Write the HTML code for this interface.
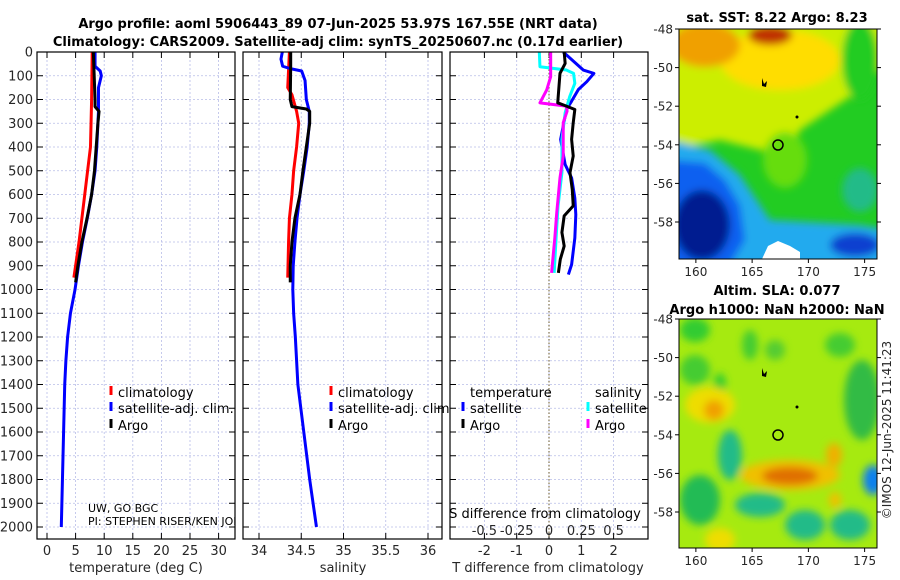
<!DOCTYPE html>
<html><head><meta charset="utf-8">
<style>
html,body{margin:0;padding:0;background:#fff;}
svg{display:block;font-family:"DejaVu Sans","Liberation Sans",sans-serif;}
</style></head>
<body>
<svg id="fig" width="900" height="580" viewBox="0 0 900 580" xmlns="http://www.w3.org/2000/svg">
<defs>
<clipPath id="cp1"><rect x="37" y="52" width="198" height="487"/></clipPath>
<clipPath id="cp2"><rect x="243" y="52" width="199" height="487"/></clipPath>
<clipPath id="cp3"><rect x="450" y="52" width="198" height="487"/></clipPath>
<clipPath id="cm1"><rect x="679" y="29" width="198" height="230"/></clipPath>
<clipPath id="cm2"><rect x="679" y="319" width="198" height="229"/></clipPath>
<filter id="bl" x="-50%" y="-50%" width="200%" height="200%"><feGaussianBlur stdDeviation="4"/></filter>
<filter id="bl2" x="-50%" y="-50%" width="200%" height="200%"><feGaussianBlur stdDeviation="4"/></filter>
</defs>
<text x="338" y="28" text-anchor="middle" font-weight="bold" font-size="13">Argo profile: aoml 5906443_89 07-Jun-2025 53.97S 167.55E (NRT data)</text>
<text x="338" y="46" text-anchor="middle" font-weight="bold" font-size="13">Climatology: CARS2009. Satellite-adj clim: synTS_20250607.nc (0.17d earlier)</text>
<g id="panels"></g>
<g>
<text x="777" y="22" text-anchor="middle" font-weight="bold" font-size="13">sat. SST: 8.22 Argo: 8.23</text>
<g clip-path="url(#cm1)">
<rect x="679" y="29" width="198" height="230" fill="#22cc22"/>
<g filter="url(#bl)">
<path d="M670 20 L890 20 L890 60 L860 90 L830 110 L800 130 L790 150 L760 150 L720 140 L670 150 Z" fill="#ccee00"/>
<ellipse cx="780" cy="60" rx="60" ry="30" fill="#ffdd00"/>
<ellipse cx="705" cy="45" rx="35" ry="22" fill="#f0a000"/>
<ellipse cx="770" cy="35" rx="22" ry="10" fill="#c03000"/>
<ellipse cx="860" cy="60" rx="18" ry="40" fill="#22cc22"/>
<ellipse cx="785" cy="160" rx="22" ry="28" fill="#66dd11"/>
<path d="M670 140 L710 150 L740 175 L760 205 L770 220 L860 225 L890 230 L890 270 L670 270 Z" fill="#22aaee"/>
<path d="M670 160 L705 163 L725 180 L740 205 L745 240 L730 265 L670 265 Z" fill="#1060f0"/>
<ellipse cx="702" cy="225" rx="28" ry="35" fill="#001a90"/>
<ellipse cx="855" cy="245" rx="25" ry="12" fill="#1040d0"/>
<ellipse cx="860" cy="190" rx="18" ry="22" fill="#22bb88"/>
</g>
<path d="M762 259 L768 246 L778 241 L790 246 L800 252 L800 259 Z" fill="#fff"/>
</g>
<rect x="679" y="29" width="198" height="230" fill="none" stroke="#000"/>
<circle cx="778" cy="145" r="5" fill="none" stroke="#000" stroke-width="1.5"/>
<path d="M762 78 l2 6 l3 -3 l-1 6 l-4 -1 z" fill="#000"/>
<circle cx="797" cy="117" r="1.5" fill="#000"/>
<g id="m1ax"></g>
</g>
<g>
<text x="777" y="295" text-anchor="middle" font-weight="bold" font-size="13">Altim. SLA: 0.077</text>
<text x="777" y="314" text-anchor="middle" font-weight="bold" font-size="13">Argo h1000: NaN h2000: NaN</text>
<g clip-path="url(#cm2)">
<rect x="679" y="319" width="198" height="229" fill="#a6ea10"/>
<g filter="url(#bl2)">
<ellipse cx="695" cy="330" rx="15" ry="12" fill="#33cc33"/>
<ellipse cx="750" cy="345" rx="8" ry="15" fill="#44cc33"/>
<ellipse cx="775" cy="350" rx="10" ry="10" fill="#55cc33"/>
<ellipse cx="840" cy="345" rx="15" ry="12" fill="#44cc33"/>
<ellipse cx="695" cy="370" rx="15" ry="15" fill="#44cc33"/>
<ellipse cx="720" cy="385" rx="6" ry="12" fill="#33cc33"/>
<ellipse cx="710" cy="405" rx="25" ry="18" fill="#eedd00"/>
<ellipse cx="714" cy="410" rx="10" ry="10" fill="#f0a000"/>
<ellipse cx="862" cy="400" rx="18" ry="40" fill="#33bb44"/>
<ellipse cx="730" cy="455" rx="12" ry="25" fill="#22bb88"/>
<ellipse cx="790" cy="475" rx="50" ry="15" fill="#f0c000"/>
<ellipse cx="790" cy="476" rx="28" ry="9" fill="#e07000"/>
<ellipse cx="700" cy="500" rx="20" ry="25" fill="#22bb55"/>
<ellipse cx="760" cy="505" rx="25" ry="12" fill="#22bb88"/>
<ellipse cx="805" cy="525" rx="20" ry="15" fill="#22bb88"/>
<ellipse cx="850" cy="525" rx="20" ry="15" fill="#22bb88"/>
<ellipse cx="873" cy="480" rx="10" ry="15" fill="#1080ee"/>
<ellipse cx="834" cy="455" rx="8" ry="12" fill="#f0b000"/>
<ellipse cx="720" cy="540" rx="15" ry="12" fill="#eedd00"/>
<ellipse cx="835" cy="500" rx="6" ry="8" fill="#f0c000"/>
</g>
</g>
<rect x="679" y="319" width="198" height="229" fill="none" stroke="#000"/>
<circle cx="778" cy="435" r="5" fill="none" stroke="#000" stroke-width="1.5"/>
<path d="M762 368 l2 6 l3 -3 l-1 6 l-4 -1 z" fill="#000"/>
<circle cx="797" cy="407" r="1.5" fill="#000"/>
<g id="m2ax"></g>
</g>
<text transform="translate(891,430) rotate(-90)" text-anchor="middle" font-size="12" fill="#262626">©IMOS 12-Jun-2025 11:41:23</text>
</svg>
<script>
const tClimDepth = [0,200,400,600,800,950];
const tClimVal   = [7.9,7.8,7.6,6.6,5.6,4.7];
const tSatDepth  = [0,60,80,100,150,250,400,500,600,700,800,900,1000,1100,1200,1300,1400,1600,1800,2000];
const tSatVal    = [8.4,8.4,9.3,9.5,9.0,9.0,8.7,8.4,7.8,7.05,6.2,5.5,4.9,4.1,3.6,3.3,3.1,2.9,2.7,2.5];
const tArgoDepth = [0,200,230,250,300,400,500,600,700,800,900,970];
const tArgoVal   = [8.1,8.4,8.4,9.1,8.9,8.6,8.3,7.8,7.0,6.1,5.4,5.0];

const sClimDepth = [0,150,180,250,300,400,500,600,700,800,950];
const sClimVal   = [34.36,34.34,34.39,34.445,34.47,34.445,34.41,34.39,34.36,34.35,34.34];
const sSatDepth  = [0,30,60,70,80,120,200,250,300,400,500,600,700,800,900,1000,1100,1200,1300,1400,1600,1800,2000];
const sSatVal    = [34.276,34.26,34.28,34.37,34.505,34.545,34.56,34.595,34.595,34.57,34.53,34.485,34.45,34.425,34.405,34.4,34.41,34.43,34.445,34.46,34.53,34.6,34.68];
const sArgoDepth = [0,60,200,230,240,250,300,400,500,600,700,800,900,970];
const sArgoVal   = [34.375,34.375,34.37,34.39,34.56,34.6,34.6,34.56,34.52,34.485,34.425,34.39,34.37,34.37];

const dTSatDepth  = [0,76,90,125,158,207,242,298,368,474,530,615,685,783,895,937];
const dTSatVal    = [0.44,1.06,1.39,1.17,0.91,0.70,0.54,0.46,0.36,0.50,0.70,0.80,0.83,0.80,0.70,0.60];
const dTArgoDepth = [0,48,90,214,228,242,298,368,438,508,578,648,690,760,817,873,930];
const dTArgoVal   = [0.47,0.50,0.34,0.27,0.54,0.80,0.75,0.70,0.75,0.65,0.72,0.75,0.47,0.40,0.47,0.35,0.29];
const dSSatDepth  = [0,62,76,90,132,188,256,368,508,648,783,930];
const dSSatVal    = [-0.075,-0.07,0.135,0.19,0.2,0.16,0.125,0.1,0.1,0.07,0.055,0.04];
const dSArgoDepth = [0,104,160,214,228,249,298,438,530,676,783,930];
const dSArgoVal   = [0.013,0.013,-0.018,-0.07,0.135,0.14,0.11,0.11,0.085,0.06,0.045,0.02];

const depthTicks = [0,100,200,300,400,500,600,700,800,900,1000,1100,1200,1300,1400,1500,1600,1700,1800,1900,2000];
const tTicks = [0,5,10,15,20,25,30];
const sTicks = [34,34.5,35,35.5,36];
const sTickLabels = ['34','34.5','35','35.5','36'];
const dTTicks = [-2,-1,0,1,2];
const dSTicks = [-0.5,-0.25,0,0.25,0.5];
const latTicks = [-48,-50,-52,-54,-56,-58];
const lonTicks = [160,165,170,175];

const NS='http://www.w3.org/2000/svg';
const Y = d => 52 + d*0.2375;
const yTop=52, yBot=539;
function mk(tag, attrs, parent){const e=document.createElementNS(NS,tag);for(const k in attrs)e.setAttribute(k,attrs[k]);parent.appendChild(e);return e;}
const root=document.getElementById('panels');

function txt(g,x,y,s,size,name,anchor,fill){const t=mk('text',{x:x,y:y,'font-size':size,fill:fill||'#262626','text-anchor':anchor||'start'},g);t.textContent=s;
  
  return t;}

function panel(x0,x1,xs,xticks,xlabels,ylabels,name){
  const g=mk('g',{},root);
  
  
  mk('rect',{x:x0,y:yTop,width:x1-x0,height:yBot-yTop,fill:'#fff'},g);
  xticks.forEach(v=>{const l=mk('line',{x1:xs(v),x2:xs(v),y1:yTop,y2:yBot,stroke:'#b8bde8','stroke-width':0.8,'stroke-dasharray':'2,2'},g);
    
    });
  depthTicks.forEach(d=>{const l=mk('line',{x1:x0,x2:x1,y1:Y(d),y2:Y(d),stroke:'#b8bde8','stroke-width':0.8,'stroke-dasharray':'2,2'},g);
    
    
    mk('line',{x1:x0,x2:x0+6,y1:Y(d),y2:Y(d),stroke:'#000'},g);
    mk('line',{x1:x1-6,x2:x1,y1:Y(d),y2:Y(d),stroke:'#000'},g);
    if(ylabels){txt(g,x0-4,Y(d)+4.5,String(d),13,'depth-tick-label','end');}
  });
  xticks.forEach((v,i)=>{mk('line',{x1:xs(v),x2:xs(v),y1:yBot,y2:yBot-6,stroke:'#000'},g);
    mk('line',{x1:xs(v),x2:xs(v),y1:yTop,y2:yTop+6,stroke:'#000'},g);
    txt(g,xs(v),555,xlabels[i],13,'x-tick-label','middle');});
  return g;
}
function line(g,depths,vals,xs,color,name,clip){
  const p=mk('polyline',{points:depths.map((d,i)=>xs(vals[i])+','+Y(d)).join(' '),fill:'none',stroke:color,'stroke-width':3,'stroke-linejoin':'round','clip-path':'url(#'+clip+')'},g);
  
  
}
function frame(g,x0,x1){mk('rect',{x:x0,y:yTop,width:x1-x0,height:yBot-yTop,fill:'none',stroke:'#000','stroke-width':1.2},g);}
function leg(g,x,y,color,label,name){mk('rect',{x:x-1.5,y:y-11,width:3,height:9,fill:color},g);
  txt(g,x+7,y,label,13,name,'start','#000');}

const xT = v => 47 + v*5.72;
const g1 = panel(37,235,xT,tTicks,tTicks.map(String),true,'temperature-panel');
line(g1,tClimDepth,tClimVal,xT,'#ff0000','temp-climatology-line','cp1');
line(g1,tSatDepth,tSatVal,xT,'#0000ff','temp-satellite-line','cp1');
line(g1,tArgoDepth,tArgoVal,xT,'#000','temp-argo-line','cp1');
leg(g1,111,397,'#ff0000','climatology','legend-climatology');
leg(g1,111,413,'#0000ff','satellite-adj. clim.','legend-satellite');
leg(g1,111,430,'#000','Argo','legend-argo');
const cg=mk('g',{'clip-path':'url(#cp1)'},g1);
txt(cg,88,512,'UW, GO BGC',11,'institution-label','start','#000');
txt(cg,88,525,'PI: STEPHEN RISER/KEN JOHNSON',11,'pi-label','start','#000');
frame(g1,37,235);
txt(g1,136,572,'temperature (deg C)',13,'x-axis-title-temperature','middle');

const xS = v => 259 + (v-34)*84.5;
const g2 = panel(243,442,xS,sTicks,sTickLabels,false,'salinity-panel');
line(g2,sClimDepth,sClimVal,xS,'#ff0000','sal-climatology-line','cp2');
line(g2,sSatDepth,sSatVal,xS,'#0000ff','sal-satellite-line','cp2');
line(g2,sArgoDepth,sArgoVal,xS,'#000','sal-argo-line','cp2');
leg(g2,331,397,'#ff0000','climatology','legend-climatology');
leg(g2,331,413,'#0000ff','satellite-adj. clim.','legend-satellite');
leg(g2,331,430,'#000','Argo','legend-argo');
frame(g2,243,442);
txt(g2,343,572,'salinity',13,'x-axis-title-salinity','middle');

const xD = v => 549 + v*32.3;
const xDS = v => 549 + v*4*32.3;
const g3 = panel(450,648,xD,dTTicks,dTTicks.map(String),false,'difference-panel');
const z=mk('line',{x1:549,x2:549,y1:yTop,y2:yBot,stroke:'#6b5a2a','stroke-width':1,'stroke-dasharray':'1.5,2'},g3);


line(g3,dTSatDepth,dTSatVal,xD,'#0000ff','dt-satellite-line','cp3');
line(g3,dSSatDepth,dSSatVal,xDS,'#00ffff','ds-satellite-line','cp3');
line(g3,dSArgoDepth,dSArgoVal,xDS,'#ff00ff','ds-argo-line','cp3');
line(g3,dTArgoDepth,dTArgoVal,xD,'#000','dt-argo-line','cp3');
txt(g3,470,397,'temperature',13,'legend-temperature-header','start','#000');
txt(g3,595,397,'salinity',13,'legend-salinity-header','start','#000');
leg(g3,463,413,'#0000ff','satellite','legend-t-satellite');
leg(g3,463,430,'#000','Argo','legend-t-argo');
leg(g3,588,413,'#00ffff','satellite','legend-s-satellite');
leg(g3,588,430,'#ff00ff','Argo','legend-s-argo');
txt(g3,545,518,'S difference from climatology',13,'s-axis-title','middle','#000');
dSTicks.forEach(v=>txt(g3,xDS(v),535,String(v),13,'s-tick-label','middle'));
frame(g3,450,648);
txt(g3,548,572,'T difference from climatology',13,'x-axis-title-difference','middle');

function mapAxes(id,y0,y1,latPx){
  const g=document.getElementById(id);
  const lonX = v => 679 + (v-158.5)*11.25;
  latTicks.forEach(v=>{const y=y0+(-48-v)*latPx;
    mk('line',{x1:877,x2:881,y1:y,y2:y,stroke:'#000'},g);
    mk('line',{x1:675,x2:679,y1:y,y2:y,stroke:'#000'},g);
    txt(g,673,y+4.5,String(v),12,'lat-tick-label','end');});
  lonTicks.forEach(v=>{mk('line',{x1:lonX(v),x2:lonX(v),y1:y1,y2:y1+4,stroke:'#000'},g);
    txt(g,lonX(v),y1+17,String(v),12,'lon-tick-label','middle');});
}
mapAxes('m1ax',29,259,19.3);
mapAxes('m2ax',319,548,19.3);
</script>
</body></html>
